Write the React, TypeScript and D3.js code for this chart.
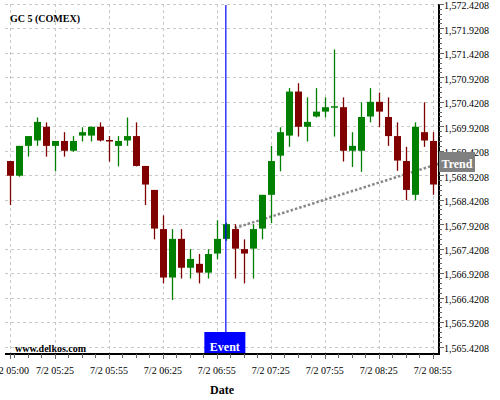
import React from "react";
import * as d3 from "d3";

const times = [
  "05:00", "05:05", "05:10", "05:15", "05:20", "05:25", "05:30", "05:35", "05:40", "05:45", "05:50", "05:55",
  "06:00", "06:05", "06:10", "06:15", "06:20", "06:25", "06:30", "06:35", "06:40", "06:45", "06:50", "06:55",
  "07:00", "07:05", "07:10", "07:15", "07:20", "07:25", "07:30", "07:35", "07:40", "07:45", "07:50", "07:55",
  "08:00", "08:05", "08:10", "08:15", "08:20", "08:25", "08:30", "08:35", "08:40", "08:45", "08:50", "08:55",
];
const opens = [
  1569.21, 1568.91, 1569.52, 1569.63, 1569.91, 1569.52, 1569.62, 1569.42, 1569.73, 1569.73, 1569.91, 1569.64,
  1569.52, 1569.63, 1569.72, 1569.11, 1568.62, 1567.82, 1566.83, 1567.62, 1567.03, 1567.11, 1566.93, 1567.32,
  1567.62, 1567.82, 1567.41, 1567.42, 1567.83, 1568.52, 1569.32, 1569.73, 1570.63, 1569.91, 1570.12, 1570.22,
  1570.31, 1570.31, 1569.42, 1569.42, 1570.12, 1570.42, 1570.11, 1569.72, 1569.21, 1568.52, 1569.8, 1569.62,
];
const highs = [
  1569.21, 1569.52, 1569.72, 1570.1, 1570.0, 1569.62, 1569.8, 1569.72, 1569.9, 1569.91, 1570.0, 1569.72,
  1569.72, 1570.1, 1570.0, 1569.11, 1568.62, 1568.1, 1567.82, 1567.82, 1567.41, 1567.31, 1567.41, 1568.0,
  1567.95, 1567.92, 1567.61, 1567.92, 1568.52, 1569.52, 1569.9, 1570.7, 1570.8, 1570.51, 1570.7, 1570.51,
  1571.49, 1570.51, 1569.8, 1570.41, 1570.7, 1570.61, 1570.51, 1570.0, 1569.5, 1570.0, 1570.41, 1569.8,
];
const lows = [
  1568.31, 1568.89, 1569.3, 1569.52, 1569.3, 1569.0, 1569.3, 1569.4, 1569.61, 1569.61, 1569.61, 1569.2,
  1569.1, 1569.52, 1569.1, 1568.31, 1567.61, 1566.71, 1566.37, 1566.81, 1566.81, 1566.71, 1566.81, 1567.2,
  1567.58, 1566.81, 1566.71, 1566.81, 1567.61, 1567.94, 1569.0, 1569.5, 1569.71, 1569.61, 1570.1, 1570.1,
  1569.71, 1569.2, 1569.09, 1568.99, 1570.0, 1569.9, 1569.52, 1569.01, 1568.41, 1568.41, 1569.5, 1568.52,
];
const closes = [
  1568.91, 1569.52, 1569.72, 1570.01, 1569.52, 1569.62, 1569.42, 1569.62, 1569.8, 1569.91, 1569.63, 1569.63,
  1569.62, 1569.72, 1569.11, 1568.73, 1567.83, 1566.83, 1567.62, 1567.03, 1567.21, 1566.93, 1567.31, 1567.62,
  1567.92, 1567.42, 1567.32, 1567.82, 1568.52, 1569.21, 1569.8, 1570.63, 1569.91, 1570.01, 1570.22, 1570.31,
  1570.33, 1569.42, 1569.52, 1570.11, 1570.42, 1570.22, 1569.72, 1569.22, 1568.62, 1569.91, 1569.63, 1568.73,
];

const xTickLabels = ["05:00", "05:25", "05:55", "06:25", "06:55", "07:25", "07:55", "08:25", "08:55"];
const yTickValues = [
  1565.4208, 1565.9208, 1566.4208, 1566.9208, 1567.4208, 1567.9208, 1568.4208, 1568.9208,
  1569.4208, 1569.9208, 1570.4208, 1570.9208, 1571.4208, 1571.9208, 1572.4208,
];
const eventTime = "07:00";
const trendTimes = ["07:05", "08:58"];
const trendPrices = [1567.84, 1569.15];

const parse = d3.timeParse("%H:%M");

export default function App() {
  const W = 500;
  const H = 400;
  const left = 5;
  const right = 439;
  const top = 4;
  const bottom = 354;

  const x = d3.scaleTime().domain([parse("05:00")!, parse("08:55")!]).range([10, 432.7]);
  const y = d3.scaleLinear().domain([1565.4208, 1572.4208]).range([346.5, 3.9]);
  const fmt = d3.format(",.4f");
  const serif = "'Liberation Serif', 'Times New Roman', serif";

  const majorX = xTickLabels.map((t) => x(parse(t)!));
  const minorX: number[] = [];
  const t0 = x.invert(left).getTime();
  const t1 = x.invert(right).getTime();
  const base = parse("06:25")!.getTime();
  const step = 7.5 * 60000;
  for (let t = base - Math.ceil((base - t0) / step) * step; t <= t1; t += step) {
    const px = x(new Date(t));
    if (px >= left && px <= right && !majorX.some((m) => Math.abs(m - px) < 3)) minorX.push(px);
  }
  const minorY: number[] = [];
  for (let i = 0; i < yTickValues.length - 1; i++) {
    for (let k = 1; k < 5; k++) minorY.push(y(yTickValues[i] + k * 0.1));
  }

  const bodyW = 7;
  const ex = x(parse(eventTime)!);
  const tx = trendTimes.map((t) => x(parse(t)!));
  const ty = trendPrices.map((p) => y(p));
  const trendEndX = right;
  const trendEndY = ty[0] + ((ty[1] - ty[0]) * (trendEndX - tx[0])) / (tx[1] - tx[0]);

  return (
    <svg width={W} height={H} style={{ position: "absolute", left: 0, top: 0, background: "#fff" }}>
      <rect x={0} y={0} width={W} height={H} fill="#fff" />
      {/* grid */}
      <g stroke="#c8c8c8" strokeWidth={1} strokeDasharray="3,3">
        {yTickValues.map((v) => (
          <line key={"gy" + v} x1={left} x2={right} y1={Math.round(y(v)) + 0.5} y2={Math.round(y(v)) + 0.5} />
        ))}
        {majorX.map((px, i) => (
          <line key={"gx" + i} x1={Math.round(px) + 0.5} x2={Math.round(px) + 0.5} y1={top} y2={bottom} />
        ))}
      </g>
      {/* title */}
      <text x={10} y={22} fontFamily={serif} fontWeight="bold" fontSize={10} fill="#000">
        GC 5 (COMEX)
      </text>
      {/* trend */}
      <line
        x1={tx[0]}
        y1={ty[0]}
        x2={trendEndX}
        y2={trendEndY}
        stroke="#888"
        strokeWidth={2.5}
        strokeDasharray="2.5,2"
      />
      {/* candles */}
      {times.map((t, i) => {
        const cx = Math.round(x(parse(t)!));
        const up = closes[i] >= opens[i];
        const col = up ? "#008000" : "#800000";
        const yo = y(opens[i]);
        const yc = y(closes[i]);
        const top1 = Math.min(yo, yc);
        const h = Math.max(1.5, Math.abs(yo - yc));
        return (
          <g key={t}>
            <line x1={cx + 0.5} x2={cx + 0.5} y1={y(highs[i])} y2={y(lows[i])} stroke={col} strokeWidth={1.3} />
            <rect x={cx + 0.5 - bodyW / 2} y={top1} width={bodyW} height={h} fill={col} />
          </g>
        );
      })}
      {/* event */}
      <line x1={ex} x2={ex} y1={top + 1} y2={332} stroke="#0000ff" strokeWidth={1.2} />
      <rect x={ex - 21.5} y={332} width={41} height={bottom - 332} fill="#0000ff" />
      <text x={ex - 1} y={351} textAnchor="middle" fontFamily={serif} fontWeight="bold" fontSize={12} fill="#fff">
        Event
      </text>
      {/* watermark */}
      <text x={15} y={351.5} fontFamily={serif} fontWeight="bold" fontSize={10} fill="#000">
        www.delkos.com
      </text>
      {/* axes */}
      <line x1={left} x2={right + 1} y1={bottom} y2={bottom} stroke="#000" strokeWidth={2} />
      <line x1={right} x2={right} y1={top} y2={bottom + 1} stroke="#000" strokeWidth={2} />
      <g stroke="#666" strokeWidth={1}>
        {majorX.map((px, i) => (
          <line key={"tx" + i} x1={Math.round(px) + 0.5} x2={Math.round(px) + 0.5} y1={bottom} y2={bottom + 5} />
        ))}
        {minorX.map((px, i) => (
          <line key={"mx" + i} x1={Math.round(px) + 0.5} x2={Math.round(px) + 0.5} y1={bottom} y2={bottom + 4} />
        ))}
        {yTickValues.map((v) => (
          <line key={"ty" + v} x1={right} x2={right + 5} y1={Math.round(y(v)) + 0.5} y2={Math.round(y(v)) + 0.5} />
        ))}
        {minorY.map((py, i) => (
          <line key={"my" + i} x1={right} x2={right + 3} y1={Math.round(py) + 0.5} y2={Math.round(py) + 0.5} />
        ))}
      </g>
      {xTickLabels.map((t, i) => (
        <text key={"lx" + t} x={majorX[i]} y={374} textAnchor="middle" fontFamily={serif} fontSize={10} fill="#000">
          {"7/2 " + t}
        </text>
      ))}
      {yTickValues.map((v) => (
        <text key={"ly" + v} x={444} y={y(v) + 5.4} fontFamily={serif} fontSize={10} fill="#000">
          {fmt(v)}
        </text>
      ))}
      {/* trend label */}
      <rect x={right} y={152} width={36} height={20} fill="#808080" />
      <text x={right + 18} y={168} textAnchor="middle" fontFamily={serif} fontWeight="bold" fontSize={12} fill="#fff">
        Trend
      </text>
      <text x={222} y={394} textAnchor="middle" fontFamily={serif} fontWeight="bold" fontSize={12} fill="#000">
        Date
      </text>
    </svg>
  );
}
